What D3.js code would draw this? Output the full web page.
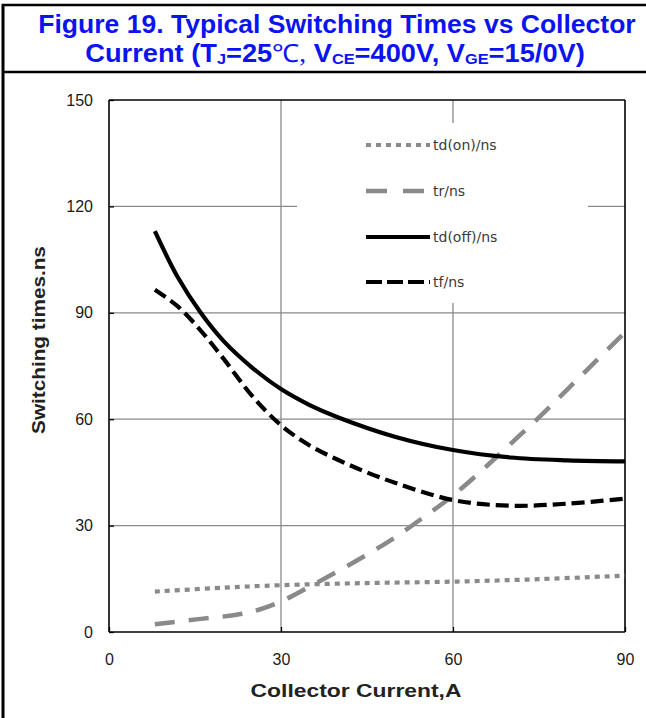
<!DOCTYPE html>
<html><head><meta charset="utf-8">
<script src="https://cdn.jsdelivr.net/npm/d3@7"></script>
<style>body{margin:0;background:#fff}svg{display:block}</style>
</head><body>
<svg id="c" width="646" height="718"></svg>
<script>
// ---- data ----
const xTicks = [0, 30, 60, 90];
const yTicks = [0, 30, 60, 90, 120, 150];
const seriesNames = ["td(on)/ns", "tr/ns", "td(off)/ns", "tf/ns"];

const tdOnX = [8, 20, 30, 45, 60, 75, 90];
const tdOnY = [11.4, 12.5, 13.2, 13.8, 14.2, 14.9, 15.9];

const trX = [8, 16, 22, 26, 30, 35, 40, 45, 50, 55, 60, 65, 70, 75, 80, 85, 90];
const trY = [2.2, 3.7, 4.8, 6.2, 8.6, 12.8, 17.2, 21.8, 26.8, 32.5, 38.5, 45.5, 53, 60.5, 68.5, 76.5, 84.5];

const tdOffX = [8, 12, 16, 20, 25, 30, 35, 40, 50, 60, 70, 80, 90];
const tdOffY = [113, 100, 90, 82, 74.5, 68.5, 64, 60.5, 55, 51.3, 49.2, 48.4, 48.1];

const tfX = [8, 12, 16, 20, 25, 30, 35, 40, 45, 50, 60, 70, 80, 90];
const tfY = [96.5, 91.8, 85, 77, 66.5, 58.3, 52.6, 48.5, 45, 42, 37.2, 35.6, 36.2, 37.6];

// ---- layout ----
const svg = d3.select("#c");
const L = 109, R = 625, T = 100, B = 632;
const x = d3.scaleLinear().domain([0, 90]).range([L, R]);
const y = d3.scaleLinear().domain([0, 150]).range([B, T]);
const gridC = "#8a8a8a";

// frame
svg.append("rect").attr("x", 0).attr("y", 0).attr("width", 646).attr("height", 718).attr("fill", "#fff");
svg.append("line").attr("x1", 3).attr("x2", 3).attr("y1", 4).attr("y2", 718).attr("stroke", "#000").attr("stroke-width", 3);
svg.append("line").attr("x1", 2).attr("x2", 646).attr("y1", 5).attr("y2", 5).attr("stroke", "#000").attr("stroke-width", 2.5);
svg.append("line").attr("x1", 2).attr("x2", 646).attr("y1", 72).attr("y2", 72).attr("stroke", "#000").attr("stroke-width", 2.5);

// title
function fit(sel, target) {
  const w = sel.node().getBBox().width;
  const cx = +sel.attr("data-cx"), cy = +sel.attr("data-cy");
  sel.attr("transform", `translate(${cx},${cy}) scale(${target / w},1)`);
}
const blue = "#0a14f0";
const t1 = svg.append("text").attr("data-cx", 337).attr("data-cy", 33)
  .attr("text-anchor", "middle").attr("font-family", "Liberation Sans, Arial, sans-serif")
  .attr("font-weight", "bold").attr("font-size", 25).attr("fill", blue)
  .text("Figure 19. Typical Switching Times vs Collector");
fit(t1, 598);
const t2 = svg.append("text").attr("data-cx", 335).attr("data-cy", 62)
  .attr("text-anchor", "middle").attr("font-family", "Liberation Sans, Arial, sans-serif")
  .attr("font-weight", "bold").attr("font-size", 25).attr("fill", blue);
t2.append("tspan").text("Current (T");
t2.append("tspan").attr("font-size", 15).attr("dy", 2).text("J");
t2.append("tspan").attr("dy", -2).text("=25");
t2.append("tspan").attr("font-family", "Liberation Serif, serif").attr("font-weight", "normal").text("℃,");
t2.append("tspan").text("  V");
t2.append("tspan").attr("font-size", 15).attr("dy", 2).text("CE");
t2.append("tspan").attr("dy", -2).text("=400V, V");
t2.append("tspan").attr("font-size", 15).attr("dy", 2).text("GE");
t2.append("tspan").attr("dy", -2).text("=15/0V)");
fit(t2, 500);

// grid
const g = svg.append("g");
g.selectAll(".gx").data(xTicks.filter(d => d > 0 && d < 90)).join("line")
  .attr("x1", d => x(d)).attr("x2", d => x(d)).attr("y1", T).attr("y2", B)
  .attr("stroke", gridC).attr("stroke-width", 1.3);
g.selectAll(".gy").data(yTicks.filter(d => d > 0 && d < 150)).join("line")
  .attr("x1", L).attr("x2", R).attr("y1", d => y(d)).attr("y2", d => y(d))
  .attr("stroke", gridC).attr("stroke-width", 1.3);

// legend background (covers gridlines)
svg.append("rect").attr("x", 297).attr("y", 123).attr("width", 291).attr("height", 180).attr("fill", "#fff");

// axes
const axY = d3.axisLeft(y).tickValues(yTicks).tickSize(-5).tickPadding(16);
const axX = d3.axisBottom(x).tickValues(xTicks).tickSize(-5).tickPadding(22);
const gY = svg.append("g").attr("transform", `translate(${L},0)`).call(axY);
const gX = svg.append("g").attr("transform", `translate(0,${B})`).call(axX);
[gY, gX].forEach(a => {
  a.attr("font-size", 16).attr("font-family", "Liberation Sans, Arial, sans-serif");
  a.select(".domain").attr("stroke", "#000").attr("stroke-width", 1.6);
  a.selectAll(".tick line").attr("stroke", "#000").attr("stroke-width", 1.3);
  a.selectAll(".tick text").style("font-size", "16px").attr("fill", "#1a1a1a");
});
gX.select(".domain").attr("d", `M${L},0H${R}`);
gY.select(".domain").attr("d", `M0,${B}V${T}`);
svg.append("line").attr("x1", L).attr("x2", R).attr("y1", T).attr("y2", T).attr("stroke", "#000").attr("stroke-width", 1.6);
svg.append("line").attr("x1", R).attr("x2", R).attr("y1", T).attr("y2", B).attr("stroke", "#000").attr("stroke-width", 1.6);

// axis titles
const xt = svg.append("text").attr("data-cx", 356).attr("data-cy", 697)
  .attr("text-anchor", "middle").attr("font-family", "Liberation Sans, Arial, sans-serif")
  .attr("font-weight", "bold").attr("font-size", 18).attr("fill", "#222").text("Collector Current,A");
fit(xt, 211);
const yt = svg.append("text").attr("text-anchor", "middle")
  .attr("font-family", "Liberation Sans, Arial, sans-serif")
  .attr("font-weight", "bold").attr("font-size", 18).attr("fill", "#222").text("Switching times.ns");
const yw = yt.node().getBBox().width;
yt.attr("transform", `translate(45,340) rotate(-90) scale(${188 / yw},1)`);

// series
const styles = [
  { xs: tdOnX, ys: tdOnY, color: "#8a8a8a", w: 4.2, dash: "5,5", legDash: "5,5" },
  { xs: trX, ys: trY, color: "#8a8a8a", w: 4.5, dash: "20,14", legDash: "21,16" },
  { xs: tdOffX, ys: tdOffY, color: "#000", w: 4.2, dash: null, legDash: null },
  { xs: tfX, ys: tfY, color: "#000", w: 4.2, dash: "13,6", legDash: "16,5" }
];
const line = d3.line().x(d => x(d[0])).y(d => y(d[1])).curve(d3.curveCatmullRom.alpha(0.5));
styles.forEach(s => {
  const pts = s.xs.map((v, i) => [v, s.ys[i]]);
  svg.append("path").attr("d", line(pts)).attr("fill", "none")
    .attr("stroke", s.color).attr("stroke-width", s.w)
    .attr("stroke-dasharray", s.dash);
});

// legend
const legY = [145, 191, 237, 282];
seriesNames.forEach((n, i) => {
  const s = styles[i];
  svg.append("line").attr("x1", 366).attr("x2", 430).attr("y1", legY[i]).attr("y2", legY[i])
    .attr("stroke", s.color).attr("stroke-width", s.w).attr("stroke-dasharray", s.legDash);
  svg.append("text").attr("x", 433).attr("y", legY[i] + 5)
    .attr("font-family", "DejaVu Sans, Verdana, sans-serif").attr("font-size", 14)
    .attr("fill", "#3a3a3a").text(n);
});
</script>
</body></html>
